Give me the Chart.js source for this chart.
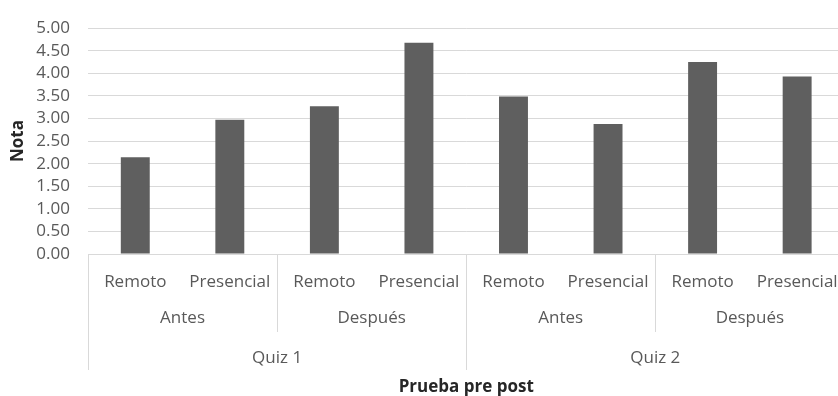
<!DOCTYPE html>
<html>
<head>
<meta charset="utf-8">
<script src="https://cdn.jsdelivr.net/npm/chart.js@4.4.1/dist/chart.umd.min.js"></script>
<style>
  html, body { margin: 0; padding: 0; background: #fff; overflow: hidden; }
  #wrap { width: 856px; height: 396px; }
</style>
</head>
<body>
<div id="wrap"><canvas id="chart"></canvas></div>
<script>
// Datos
const quizzes = ['Quiz 1', 'Quiz 2'];
const phases = ['Antes', 'Después'];
const modes = ['Remoto', 'Presencial'];
const notas = [2.14, 2.97, 3.27, 4.68, 3.49, 2.88, 4.25, 3.93];
const yMax = 5;
const yStep = 0.5;

const labels = quizzes.flatMap(() => phases.flatMap(() => modes));

const textColor = '#595959';
const lineColor = '#d9d9d9';
const font = "'Open Sans', sans-serif";

// Dibuja los niveles de categoría (Antes/Después, Quiz) y sus separadores
const groupLabels = {
  id: 'groupLabels',
  afterDraw(chart) {
    const x = chart.scales.x;
    const ctx = chart.ctx;
    const n = labels.length;
    const edge = i => i === 0 ? x.left : i === n ? x.right
      : (x.getPixelForTick(i - 1) + x.getPixelForTick(i)) / 2;
    const top = x.top;
    const perPhase = modes.length;
    const perQuiz = phases.length * modes.length;

    ctx.save();
    ctx.strokeStyle = lineColor;
    ctx.lineWidth = 1;
    for (let i = 0; i <= n; i++) {
      if (i % perPhase !== 0) continue;
      const px = Math.round(edge(i)) + 0.5;
      const len = i % perQuiz === 0 ? 116 : 78;
      ctx.beginPath();
      ctx.moveTo(px, top);
      ctx.lineTo(px, top + len);
      ctx.stroke();
    }

    ctx.fillStyle = textColor;
    ctx.font = "17px " + font;
    ctx.textAlign = 'center';
    ctx.textBaseline = 'middle';
    let g = 0;
    quizzes.forEach(q => {
      const qStart = g;
      phases.forEach(p => {
        const cx = (edge(g) + edge(g + perPhase)) / 2;
        ctx.fillText(p, cx, top + 64);
        g += perPhase;
      });
      ctx.fillText(q, (edge(qStart) + edge(g)) / 2, top + 104);
    });
    ctx.restore();
  }
};

new Chart(document.getElementById('chart'), {
  type: 'bar',
  data: {
    labels: labels,
    datasets: [{
      label: 'Nota',
      data: notas,
      backgroundColor: '#5f5f5f',
      borderWidth: 0,
      barPercentage: 0.306,
      categoryPercentage: 1
    }]
  },
  options: {
    responsive: true,
    maintainAspectRatio: false,
    animation: false,
    layout: { padding: { top: 24, right: 6, bottom: 0, left: 0 } },
    plugins: {
      legend: { display: false },
      tooltip: { enabled: false }
    },
    scales: {
      x: {
        grid: { display: false, drawTicks: false },
        border: { display: false },
        ticks: {
          color: textColor,
          font: { family: font, size: 17 },
          padding: 18,
          maxRotation: 0,
          autoSkip: false
        },
        title: {
          display: true,
          text: 'Prueba pre post',
          color: '#262626',
          font: { family: font, size: 17, weight: 'bold', lineHeight: 1.05 },
          padding: { top: 0, bottom: 0 }
        },
        afterFit: s => { s.height = 142; }
      },
      y: {
        min: 0,
        max: yMax,
        grid: { color: lineColor, drawTicks: false },
        border: { display: false },
        ticks: {
          stepSize: yStep,
          autoSkip: false,
          color: textColor,
          font: { family: font, size: 17 },
          padding: 18,
          callback: v => v.toFixed(2)
        },
        title: {
          display: true,
          text: 'Nota',
          color: '#262626',
          font: { family: font, size: 17, weight: 'bold' },
          padding: { top: 8, bottom: 0 }
        },
        afterFit: s => { s.width = 88; }
      }
    }
  },
  plugins: [groupLabels]
});
</script>
</body>
</html>
